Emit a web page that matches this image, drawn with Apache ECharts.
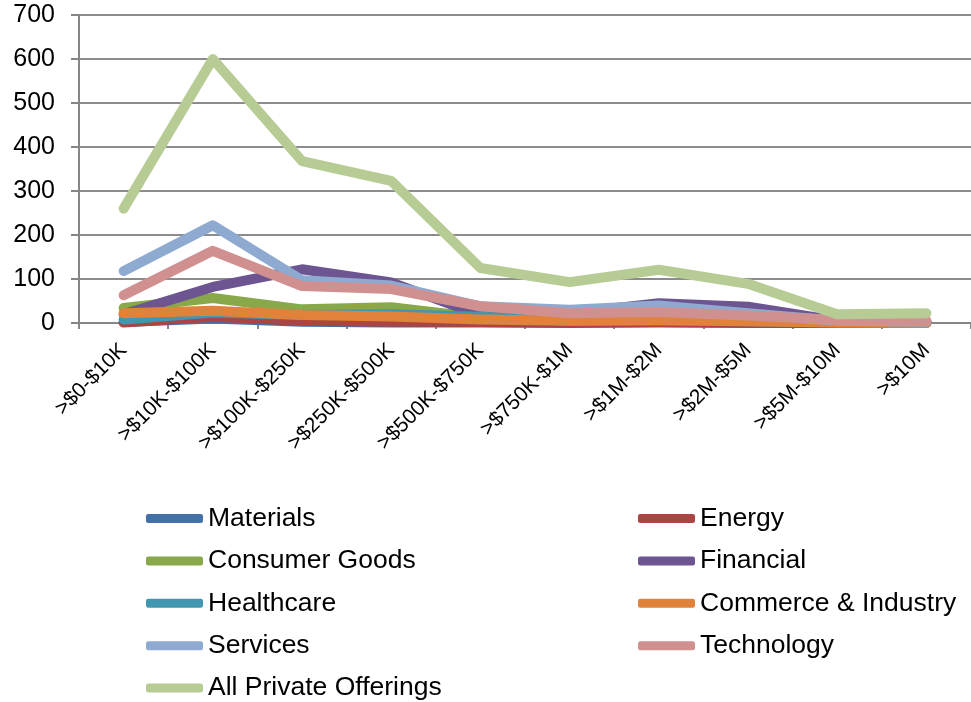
<!DOCTYPE html>
<html>
<head>
<meta charset="utf-8">
<script src="https://cdn.jsdelivr.net/npm/echarts@6/dist/echarts.min.js"></script>
<style>
html,body{margin:0;padding:0;background:#fff;}
#chart{width:971px;height:702px;}
</style>
</head>
<body>
<div id="chart"></div>
<script>
var categories = ['>$0-$10K','>$10K-$100K','>$100K-$250K','>$250K-$500K','>$500K-$750K','>$750K-$1M','>$1M-$2M','>$2M-$5M','>$5M-$10M','>$10M'];
var yTicks = [0,100,200,300,400,500,600,700];

var materials     = [2, 10, 3, 1, 1, 0, 1, 0, 0, 0];
var energy        = [1, 14, 5, 3, 2, 1, 2, 1, 0, 0];
var consumerGoods = [34, 57, 31, 36, 12, 6, 8, 5, 2, 1];
var financial     = [20, 82, 122, 92, 18, 22, 45, 37, 5, 3];
var healthcare    = [8, 24, 18, 20, 14, 5, 6, 4, 1, 1];
var commerce      = [22, 28, 18, 15, 8, 5, 6, 4, 1, 0];
var services      = [118, 222, 97, 85, 38, 30, 40, 22, 5, 3];
var technology    = [63, 164, 84, 77, 38, 22, 25, 17, 7, 5];
var allOfferings  = [260, 600, 368, 323, 125, 93, 121, 89, 20, 22];

var seriesNames = ['Materials','Energy','Consumer Goods','Financial','Healthcare','Commerce & Industry','Services','Technology','All Private Offerings'];
var seriesData = [materials, energy, consumerGoods, financial, healthcare, commerce, services, technology, allOfferings];
var colors = ['#4470a8','#aa4543','#88a84a','#6c5591','#3f97b0','#e0823a','#8eaad0','#d09090','#b6cc94'];

var chart = echarts.init(document.getElementById('chart'));
var FONT = '"Liberation Sans", Arial, sans-serif';

var series = seriesNames.map(function(n, i){
  return {
    name: n, type: 'line', data: seriesData[i],
    showSymbol: false, symbol: 'none', smooth: false,
    lineStyle: {width: 10, color: colors[i], cap: 'round', join: 'round'},
    itemStyle: {color: colors[i]},
    emphasis: {disabled: true},
    z: 2 + i
  };
});

var legendCommon = {
  orient: 'vertical', itemWidth: 57, itemHeight: 9, itemGap: 15.4,
  icon: 'roundRect', selectedMode: false, padding: 0, height: 220,
  textStyle: {fontFamily: FONT, fontSize: 26.5, color: '#000', lineHeight: 26},
  top: 505
};

chart.setOption({
  animation: false,
  color: colors,
  grid: {left: 79, top: 15, right: -8, bottom: 379, containLabel: false},
  xAxis: {
    type: 'category', data: categories, boundaryGap: true,
    axisLine: {lineStyle: {color: '#868686', width: 2}},
    axisTick: {show: true, length: 6, lineStyle: {color: '#868686', width: 2}},
    axisLabel: {rotate: 45, fontFamily: FONT, fontSize: 21, color: '#000', margin: 24, interval: 0}
  },
  yAxis: {
    type: 'value', min: 0, max: 700, interval: 100,
    axisLine: {show: true, lineStyle: {color: '#868686', width: 2}},
    axisTick: {show: true, inside: false, length: 8, lineStyle: {color: '#868686', width: 2}},
    axisLabel: {fontFamily: FONT, fontSize: 25, color: '#000', margin: 24,
      formatter: function(v){ return yTicks.indexOf(v) >= 0 ? String(v) : ''; }},
    splitLine: {show: true, lineStyle: {color: '#8c8c8c', width: 2}}
  },
  legend: [
    Object.assign({}, legendCommon, {left: 146, data: ['Materials','Consumer Goods','Healthcare','Services','All Private Offerings']}),
    Object.assign({}, legendCommon, {left: 638, data: ['Energy','Financial','Commerce & Industry','Technology']})
  ],
  series: series
});
</script>
</body>
</html>
